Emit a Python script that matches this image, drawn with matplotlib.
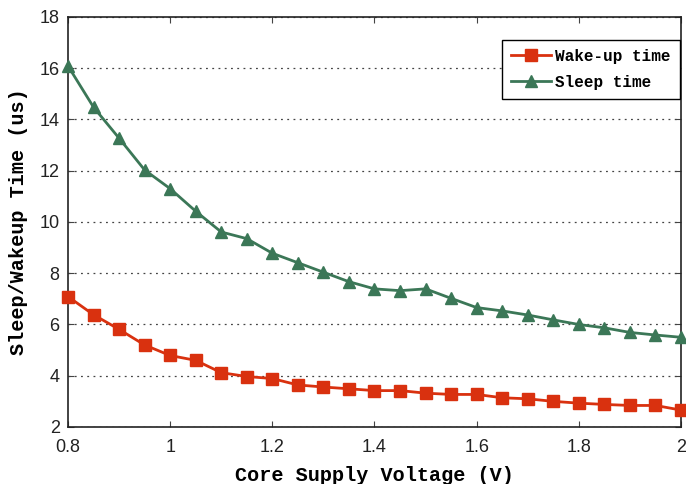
import matplotlib
matplotlib.use("Agg")
import matplotlib.pyplot as plt

voltage = [0.8, 0.85, 0.9, 0.95, 1.0, 1.05, 1.1, 1.15, 1.2, 1.25, 1.3, 1.35, 1.4,
           1.45, 1.5, 1.55, 1.6, 1.65, 1.7, 1.75, 1.8, 1.85, 1.9, 1.95, 2.0]
wakeup_time = [7.09, 6.38, 5.81, 5.2, 4.79, 4.6, 4.12, 3.97, 3.89, 3.64, 3.56, 3.49, 3.42,
               3.42, 3.32, 3.27, 3.27, 3.14, 3.1, 3.0, 2.93, 2.88, 2.84, 2.84, 2.66]
sleep_time = [16.09, 14.48, 13.27, 12.03, 11.3, 10.42, 9.61, 9.35, 8.78, 8.41, 8.04, 7.67, 7.39,
              7.32, 7.39, 7.02, 6.66, 6.53, 6.37, 6.18, 6.0, 5.87, 5.69, 5.59, 5.5]
x_ticks = [0.8, 1, 1.2, 1.4, 1.6, 1.8, 2]
x_ticklabels = ["0.8", "1", "1.2", "1.4", "1.6", "1.8", "2"]
y_ticks = [2, 4, 6, 8, 10, 12, 14, 16, 18]

RED = "#D9310F"
GREEN = "#3B7757"
MONO = "Liberation Mono"

fig = plt.figure(figsize=(6.86, 4.84), dpi=100)
ax = fig.add_axes([0.0991, 0.1178, 0.8936, 0.8471])

ax.plot(voltage, wakeup_time, color=RED, lw=2.0, marker="s", ms=8, label="Wake-up time", clip_on=False, zorder=3)
ax.plot(voltage, sleep_time, color=GREEN, lw=2.0, marker="^", ms=9, label="Sleep time", clip_on=False, zorder=3)

ax.set_xlim(0.8, 2.0)
ax.set_ylim(2, 18)
ax.set_xticks(x_ticks)
ax.set_xticklabels(x_ticklabels)
ax.set_yticks(y_ticks)
ax.tick_params(direction="in", top=True, right=True, labelsize=13, length=4, color="#444444")
ax.tick_params(axis="x", pad=9)
ax.tick_params(axis="y", pad=6)
for lbl in ax.get_xticklabels() + ax.get_yticklabels():
    lbl.set_family("Liberation Sans")
    lbl.set_color("#222222")
for s in ax.spines.values():
    s.set_linewidth(1.2)
    s.set_color("#222222")
ax.yaxis.grid(True, linestyle=(0, (1.5, 3.5)), color="#444444", lw=0.9)
ax.set_axisbelow(True)

ax.set_xlabel("Core Supply Voltage (V)", family=MONO, weight="bold", fontsize=14.5, labelpad=7)
ax.set_ylabel("Sleep/Wakeup Time (us)", family=MONO, weight="bold", fontsize=14.5, labelpad=8)

leg = ax.legend(loc="upper right", prop={"family": MONO, "weight": "bold", "size": 11.5},
                fancybox=False, framealpha=1, edgecolor="black", borderaxespad=0.0,
                bbox_to_anchor=(0.998, 0.944), handlelength=2.5, handletextpad=0.3,
                labelspacing=0.7, borderpad=0.55)
leg.get_frame().set_linewidth(1.0)

fig.savefig("out.png", dpi=100, facecolor="white")
